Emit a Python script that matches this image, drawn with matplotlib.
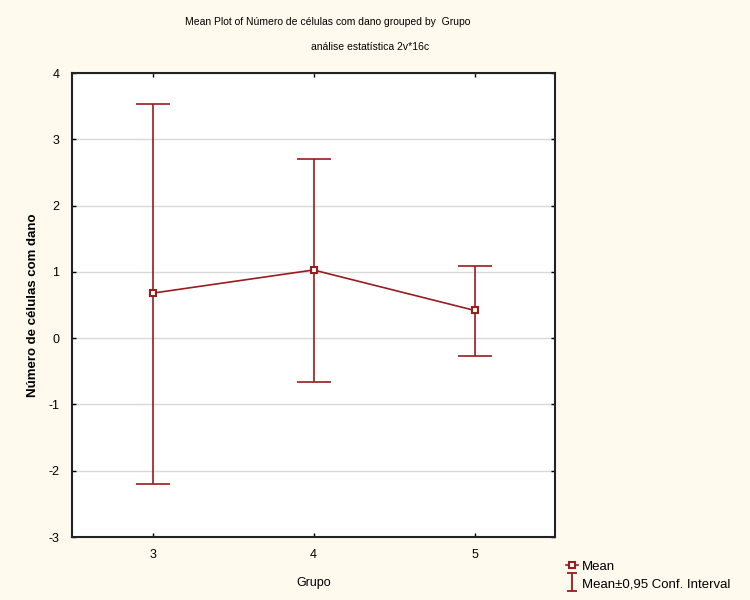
import matplotlib
matplotlib.use("Agg")
import matplotlib.pyplot as plt
from matplotlib.lines import Line2D
from matplotlib.path import Path
import numpy as np

# data
grupos = [3, 4, 5]
means = [0.68, 1.03, 0.42]
ci_upper = [3.53, 2.70, 1.09]
ci_lower = [-2.20, -0.66, -0.27]
y_ticks = [-3, -2, -1, 0, 1, 2, 3, 4]

red = "#9B1B1E"
bg = "#FFF9EE"

plt.rcParams.update({
    "font.family": ["Liberation Sans", "DejaVu Sans"],
    "font.size": 8,
    "axes.unicode_minus": False,
})

fig = plt.figure(figsize=(7.5, 6), dpi=100, facecolor=bg)
ax = fig.add_axes([0.096, 0.105, 0.644, 0.773])
ax.set_facecolor("white")

means = np.array(means)
err = [means - np.array(ci_lower), np.array(ci_upper) - means]

ax.errorbar(grupos, means, yerr=err, fmt="none", ecolor=red, elinewidth=1.2,
            capsize=12, capthick=1.2, zorder=3)
ax.plot(grupos, means, color=red, lw=1.2, marker="s", ms=5, mfc="white",
        mec=red, mew=1.5, zorder=4)

ax.set_xlim(2.5, 5.5)
ax.set_ylim(-3, 4)
ax.set_xticks(grupos)
ax.set_yticks(y_ticks)
ax.yaxis.grid(True, color="#d9d9d9", lw=1)
ax.set_axisbelow(True)
ax.tick_params(direction="in", length=3, width=1, top=True, right=True,
               labelsize=9, pad=9)
for s in ax.spines.values():
    s.set_linewidth(1.5)
    s.set_color("#222222")

ax.set_xlabel("Grupo", fontsize=9, labelpad=11)
ax.set_ylabel("Número de células com dano", fontsize=9.5, fontweight="bold", labelpad=7)

fig.text(0.437, 0.963, "Mean Plot of Número de células com dano grouped by  Grupo",
         ha="center", va="center", fontsize=7.5)
fig.text(0.493, 0.922, "análise estatística 2v*16c", ha="center", va="center", fontsize=7.5)

# legend keys
i_bar = Path([(-0.6, -1), (0.6, -1), (0, -1), (0, 1), (-0.6, 1), (0.6, 1)],
             [Path.MOVETO, Path.LINETO, Path.MOVETO, Path.LINETO, Path.MOVETO, Path.LINETO])
h_mean = Line2D([], [], color=red, lw=1.2, marker="s", ms=5, mfc="white", mec=red, mew=1.5)
h_ci = Line2D([], [], ls="none", marker=i_bar, ms=13, mfc="none", mec=red, mew=1.3)
fig.legend([h_mean, h_ci], ["Mean", "Mean\u00b10,95 Conf. Interval"],
           loc="upper left", bbox_to_anchor=(0.748, 0.075),
           frameon=False, fontsize=9.5, handlelength=0.9, handletextpad=0.3,
           labelspacing=0.4, borderaxespad=0)

fig.savefig("out.png", dpi=100, facecolor=bg)
